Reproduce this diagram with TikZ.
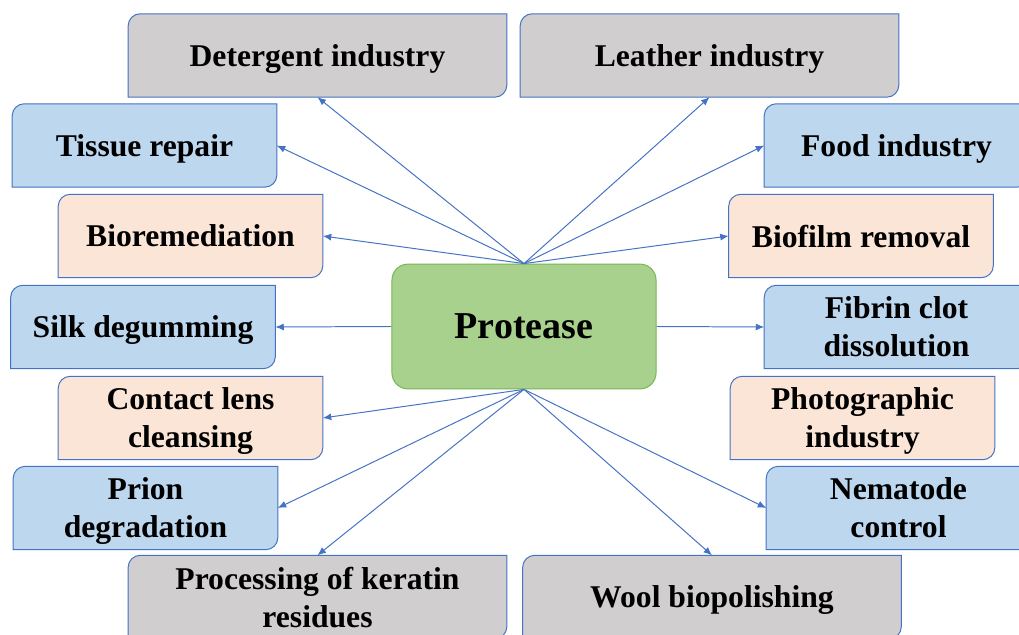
\documentclass[tikz,border=0pt]{standalone}
\usepackage{fontspec}
\setmainfont{Liberation Serif}
\usetikzlibrary{arrows.meta, backgrounds}
\definecolor{boxline}{RGB}{68,114,196}
\definecolor{greyfill}{RGB}{208,206,206}
\definecolor{bluefill}{RGB}{189,215,238}
\definecolor{peachfill}{RGB}{251,229,214}
\definecolor{greenfill}{RGB}{169,209,142}
\definecolor{greenline}{RGB}{120,180,80}
\tikzset{app/.style={minimum width=6.6cm, minimum height=2.07cm, inner sep=0pt, align=center,
        text depth=-4pt, font=\fontsize{22.5}{27}\selectfont\bfseries},
    appwide/.style={app, minimum width=9.45cm},
    frame/.style={draw=boxline, line width=0.7pt},
    use/.style={color=boxline, line width=0.7pt, -{Latex[length=6pt, width=5pt]}}}

\begin{document}
\begin{tikzpicture}[x=0.025cm, y=-0.025cm]
        \useasboundingbox (0,0) rectangle (1019,635);

        \node [draw=greenline, fill=greenfill, line width=0.7pt, rounded corners=0.4cm,
            minimum width=6.6cm, minimum height=3.12cm,
            font=\fontsize{27}{30}\selectfont\bfseries] (pro) at (524,326.5) {Protease};

        % left column
        \node [appwide] (det) at (317.5,55.5) {Detergent industry};
        \node [app] (tis) at (144.5,145.5) {Tissue repair};
        \node [app] (brm) at (190.5,236) {Bioremediation};
        \node [app] (silk) at (143,327) {Silk degumming};
        \node [app] (cont) at (190.5,418) {Contact lens\\cleansing};
        \node [app] (prion) at (145.5,508) {Prion\\degradation};
        \node [appwide] (ker) at (317.5,597) {Processing of keratin\\residues};

        % right column
        \node [appwide] (lea) at (709.5,55.5) {Leather industry};
        \node [app] (food) at (896.5,145.5) {Food industry};
        \node [app] (bfr) at (861,236) {Biofilm removal};
        \node [app] (fib) at (896.5,327) {Fibrin clot\\dissolution};
        \node [app] (phot) at (862.5,418) {Photographic\\industry};
        \node [app] (nem) at (898.5,508) {Nematode\\control};
        \node [appwide] (wool) at (712,597) {Wool biopolishing};

        \begin{scope}[on background layer]
        \foreach \n/\c in {det/greyfill, lea/greyfill, ker/greyfill, wool/greyfill,
            tis/bluefill, food/bluefill, silk/bluefill, fib/bluefill, prion/bluefill, nem/bluefill,
            brm/peachfill, bfr/peachfill, cont/peachfill, phot/peachfill}
            \draw [frame, fill=\c] (\n.north east) -- ([xshift=0.3cm]\n.north west)
                arc[start angle=90, end angle=180, radius=0.3cm] -- (\n.south west)
                -- ([xshift=-0.3cm]\n.south east)
                arc[start angle=270, end angle=360, radius=0.3cm] -- cycle;
        \end{scope}

        \path[every edge/.append style={use}] (pro.north) edge (det.south) edge (lea.south)
            edge (tis.east) edge (food.west) edge (brm.east) edge (bfr.west)
            (pro.west) edge (silk.east)
            (pro.east) edge (fib.west)
            (pro.south) edge (cont.east) edge (prion.east) edge (ker.north)
            edge (wool.north) edge (nem.west);
\end{tikzpicture}
\end{document}
